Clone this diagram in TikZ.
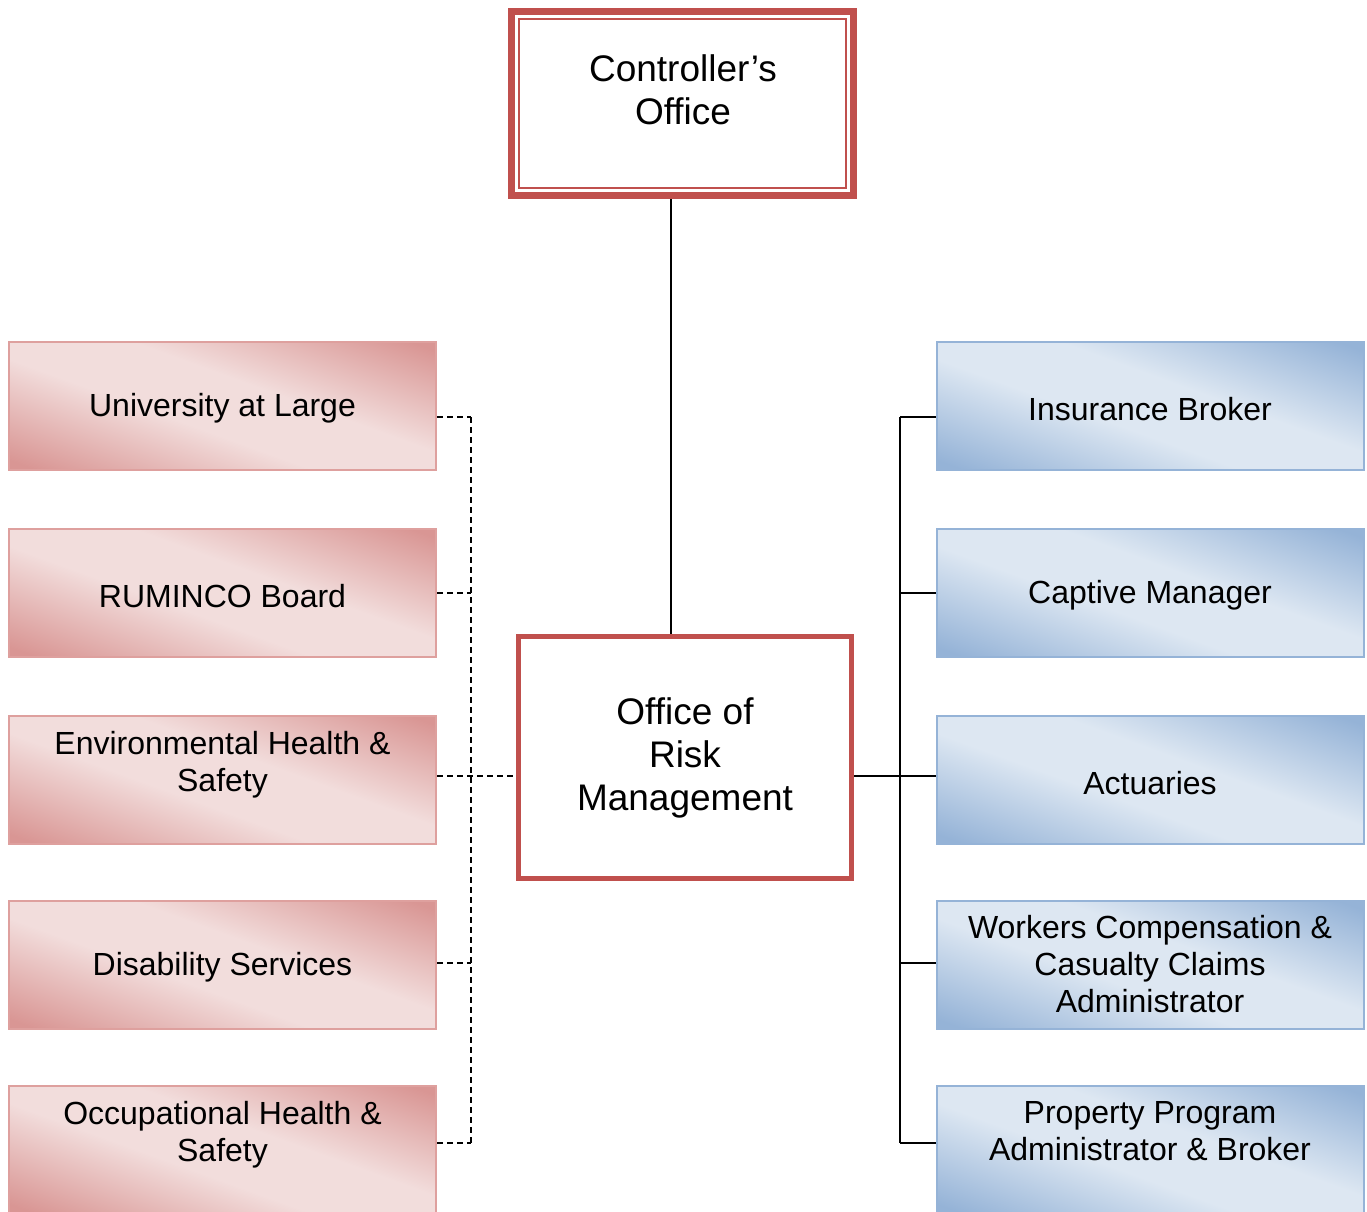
\documentclass[tikz,border=0pt]{standalone}
\usepackage{fontspec}
\setmainfont{Liberation Sans}
\definecolor{rdark}{RGB}{217,150,148}
\definecolor{rlight}{RGB}{242,221,220}
\definecolor{rborder}{RGB}{222,160,158}
\definecolor{bdark}{RGB}{149,179,215}
\definecolor{blight}{RGB}{221,231,242}
\definecolor{bborder}{RGB}{149,179,215}
\definecolor{mainred}{RGB}{192,80,77}
\pgfdeclareverticalshading{redfill}{100bp}{color(0bp)=(rdark); color(20bp)=(rdark); color(43bp)=(rlight); color(57bp)=(rlight); color(80bp)=(rdark); color(100bp)=(rdark)}
\pgfdeclareverticalshading{bluefill}{100bp}{color(0bp)=(bdark); color(20bp)=(bdark); color(43bp)=(blight); color(57bp)=(blight); color(80bp)=(bdark); color(100bp)=(bdark)}
\tikzset{
  side/.style={minimum width=427, minimum height=128, inner sep=0, align=center,
    font={\fontsize{32}{37}\selectfont}, line width=2,
    execute at begin node={\rule{0pt}{29.5pt}}},
  redbox/.style={side, draw=rborder, shading=redfill, shading angle=-20},
  bluebox/.style={side, draw=bborder, shading=bluefill, shading angle=-20},
  mainfont/.style={font={\fontsize{37}{43}\selectfont}, align=center},
  link/.style={line width=1.8, black},
  dotlink/.style={line width=1.9, black, dash pattern=on 6 off 4},
}
\begin{document}
\begin{tikzpicture}[x=1pt, y=-1pt]
\clip (0,0) rectangle (1367,1211);

% top office
\node[draw=mainred, line width=7, minimum width=342, minimum height=184, inner sep=0, fill=white] (ctrl) at (682.5,103.5) {};
\draw[mainred, line width=1.5] ([shift={(11,11)}]ctrl.north west) rectangle ([shift={(-11,-11)}]ctrl.south east);
\node[mainfont] (ctrltext) at (683,90) {Controller’s\\Office};

% central office
\node[draw=mainred, line width=5, minimum width=333, minimum height=242, inner sep=0, fill=white, mainfont,
      execute at begin node={\rule{0pt}{33pt}}] (orm) at (685,757.5) {Office of\\Risk\\Management};

% left column
\node[redbox] (uni) at (222.5,405.5) {University at Large};
\node[redbox] (rum) at (222.5,592.5) {RUMINCO Board};
\node[redbox] (env) at (222.5,779.5) {Environmental Health \&\\Safety\\\mbox{}};
\node[redbox] (dis) at (222.5,964.5) {Disability Services};
\node[redbox] (occ) at (222.5,1149.5) {Occupational Health \&\\Safety\\\mbox{}};

% right column
\node[bluebox] (ins) at (1150,405.5) {Insurance Broker};
\node[bluebox] (cap) at (1150,592.5) {Captive Manager};
\node[bluebox] (act) at (1150,779.5) {Actuaries};
\node[bluebox] (wcc) at (1150,964.5) {Workers Compensation \&\\Casualty Claims\\Administrator};
\node[bluebox] (ppa) at (1150,1149.5) {Property Program\\Administrator \& Broker\\\mbox{}};

% bus coordinates
\coordinate (cx) at (671,0);
\coordinate (l1) at (471,417);
\coordinate (l2) at (471,593);
\coordinate (l3) at (471,776);
\coordinate (l4) at (471,963);
\coordinate (l5) at (471,1143);
\coordinate (r1) at (900,417);
\coordinate (r2) at (900,593);
\coordinate (r3) at (900,776);
\coordinate (r4) at (900,963);
\coordinate (r5) at (900,1143);

% reporting line
\draw[link] (cx |- ctrl.south) -- (cx |- orm.north);

% service providers
\draw[link] (r1) -- (r5);
\draw[link] (orm.east |- r3) -- (r3) -- (act.west |- r3);
\draw[link] (r1) -- (ins.west |- r1);
\draw[link] (r2) -- (cap.west |- r2);
\draw[link] (r4) -- (wcc.west |- r4);
\draw[link] (r5) -- (ppa.west |- r5);

% partner units
\draw[dotlink] (l1) -- (l5);
\draw[dotlink] (env.east |- l3) -- (orm.west |- l3);
\draw[dotlink] (uni.east |- l1) -- (l1);
\draw[dotlink] (rum.east |- l2) -- (l2);
\draw[dotlink] (dis.east |- l4) -- (l4);
\draw[dotlink] (occ.east |- l5) -- (l5);
\end{tikzpicture}
\end{document}
